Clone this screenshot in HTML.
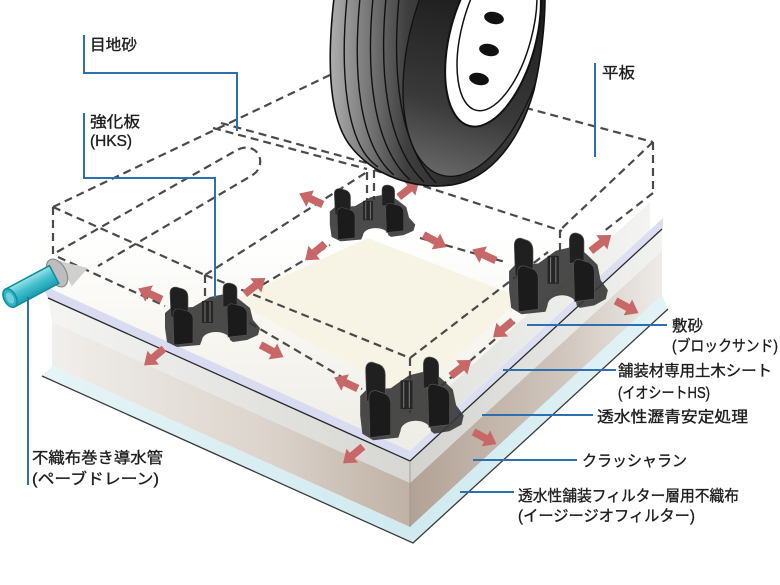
<!DOCTYPE html>
<html>
<head>
<meta charset="utf-8">
<style>
html,body{margin:0;padding:0;background:#fff;}
svg{display:block;}
text{font-family:"Liberation Sans","Noto Sans CJK JP",sans-serif;fill:#1e1e1e;stroke:#1e1e1e;stroke-width:0.35px;font-size:15.5px;}
</style>
</head>
<body>
<svg width="780" height="585" viewBox="0 0 780 585" xmlns="http://www.w3.org/2000/svg">
<defs>
  <linearGradient id="gT" gradientUnits="userSpaceOnUse" x1="0" y1="440" x2="0" y2="235">
    <stop offset="0" stop-color="#eeede6"/>
    <stop offset="0.55" stop-color="#f8f7f2"/>
    <stop offset="1" stop-color="#ffffff"/>
  </linearGradient>
  <linearGradient id="gLA" gradientUnits="userSpaceOnUse" x1="50" y1="0" x2="410" y2="0">
    <stop offset="0" stop-color="#f4f4f2"/>
    <stop offset="1" stop-color="#d6d6d3"/>
  </linearGradient>
  <linearGradient id="gLC" gradientUnits="userSpaceOnUse" x1="50" y1="0" x2="410" y2="0">
    <stop offset="0" stop-color="#f1efec"/>
    <stop offset="0.6" stop-color="#dcd4cc"/>
    <stop offset="1" stop-color="#bfb1a5"/>
  </linearGradient>
  <linearGradient id="gRA" gradientUnits="userSpaceOnUse" x1="410" y1="0" x2="662" y2="0">
    <stop offset="0" stop-color="#d2d2ce"/>
    <stop offset="1" stop-color="#f2f2f0"/>
  </linearGradient>
  <linearGradient id="gRC" gradientUnits="userSpaceOnUse" x1="410" y1="0" x2="662" y2="0">
    <stop offset="0" stop-color="#b2a295"/>
    <stop offset="0.6" stop-color="#cfc5bc"/>
    <stop offset="1" stop-color="#eeebe8"/>
  </linearGradient>
  <linearGradient id="gLF" gradientUnits="userSpaceOnUse" x1="42" y1="0" x2="413" y2="0">
    <stop offset="0" stop-color="#e6f4f6"/>
    <stop offset="1" stop-color="#cfeaef"/>
  </linearGradient>
  <linearGradient id="gRF" gradientUnits="userSpaceOnUse" x1="410" y1="0" x2="668" y2="0">
    <stop offset="0" stop-color="#cfeaef"/>
    <stop offset="1" stop-color="#e3f3f6"/>
  </linearGradient>
  <linearGradient id="gRS" gradientUnits="userSpaceOnUse" x1="430" y1="0" x2="660" y2="0">
    <stop offset="0" stop-color="#e2e2de"/>
    <stop offset="1" stop-color="#f4f4f2"/>
  </linearGradient>
  <linearGradient id="gTread" gradientUnits="userSpaceOnUse" x1="333" y1="0" x2="545" y2="0">
    <stop offset="0" stop-color="#aaaaaa"/>
    <stop offset="0.15" stop-color="#7c7c7c"/>
    <stop offset="0.35" stop-color="#3e3e3e"/>
    <stop offset="0.6" stop-color="#2a2a2a"/>
    <stop offset="1" stop-color="#444"/>
  </linearGradient>
  <linearGradient id="gSide" gradientUnits="userSpaceOnUse" x1="0" y1="0" x2="0" y2="185">
    <stop offset="0" stop-color="#1e1e1e"/>
    <stop offset="0.6" stop-color="#3a3a3a"/>
    <stop offset="1" stop-color="#6a6a6a"/>
  </linearGradient>
  <linearGradient id="gPipe" x1="0" y1="0" x2="0" y2="1">
    <stop offset="0" stop-color="#9fe2ea"/>
    <stop offset="0.45" stop-color="#45c1cf"/>
    <stop offset="1" stop-color="#1a9cad"/>
  </linearGradient>
  <clipPath id="tireClip">
    <path d="M334,-2 C327,60 328,120 352,148 C375,176 415,190 452,185 C492,178 520,140 534,90 C541,60 545,25 545,-2 Z"/>
  </clipPath>
  <g id="blk">
    <path d="M2,30 L9,24 L14,25 L30,24 L47,14 L67,10 L77,17 L87,25 L90,37 L97,45 L95,52 L84,57 L70,59 L67,57 A14,8 0 0 0 39,57 L37,62 L14,64 L4,59 L2,45 Z" fill="#363636" fill-opacity="0.9"/>
    <path d="M8,34 L7,10 Q7,4 13,4 L20,6 Q25,8 25,14 L25,34 Z" fill="#202020" stroke="#555" stroke-width="0.6"/>
    <path d="M60,24 L60,6 Q60,0 66,0 Q74,1 74,7 L74,22 Z" fill="#202020" stroke="#555" stroke-width="0.6"/>
    <rect x="39" y="18" width="11" height="22" fill="#262626"/>
    <line x1="42" y1="19" x2="42" y2="39" stroke="#8a8a8a" stroke-width="0.8"/>
    <line x1="47" y1="19" x2="47" y2="39" stroke="#8a8a8a" stroke-width="0.8"/>
    <path d="M11,62 L10,32 Q10,25 17,26 L24,28 Q30,30 30,36 L30,60 Z" fill="#1b1b1b" stroke="#555" stroke-width="0.6"/>
    <path d="M65,54 L64,26 Q64,20 70,21 L78,23 Q84,25 84,31 L84,52 Z" fill="#1b1b1b" stroke="#555" stroke-width="0.6"/>
  </g>
  <polygon id="arr" points="-13,-3.8 1,-3.8 1,-9 13,0 1,9 1,3.8 -13,3.8" fill="#c76767"/>
</defs>

<rect width="780" height="585" fill="#fff"/>

<!-- slab top surface -->
<polygon points="40,288 410,452 664,220 664,140 330,55 40,195" fill="url(#gT)"/>
<!-- right sand strip -->
<polygon points="430,404 650,202 650,230 430,432" fill="url(#gRS)"/>
<!-- cream diamond -->
<polygon points="232,300 368,238 522,298 410,398" fill="#f8f4e5"/>
<!-- lavender bands -->
<polygon points="42,285 410,451 410,461 48,298" fill="#d9dcf1"/>
<polygon points="410,451 663,218 663,228 410,461" fill="#dcdff2"/>

<!-- left face -->
<polygon points="48,298 410,461 410,483 52,322" fill="url(#gLA)"/>
<polygon points="52,322 410,483 410,527 52,366" fill="url(#gLC)"/>
<polygon points="52,366 410,527 413,543 42,376" fill="url(#gLF)"/>
<!-- right face -->
<polygon points="410,461 662,229 662,251 410,483" fill="url(#gRA)"/>
<polygon points="410,483 662,251 662,295 410,527" fill="url(#gRC)"/>
<polygon points="410,527 662,295 668,309 413,543" fill="url(#gRF)"/>
<!-- edges -->
<polyline points="48,298 410,461 662,229" fill="none" stroke="#2a2a2a" stroke-width="1.3"/>
<polyline points="42,376 413,543 668,309" fill="none" stroke="#3a3a3a" stroke-width="1.3"/>
<line x1="410" y1="461" x2="410" y2="527" stroke="#9a9088" stroke-width="0.8"/>

<!-- dashed pavers -->
<g fill="none" stroke="#4a4a4a" stroke-width="2.2" stroke-dasharray="8 5">
  <path d="M53,207 L330,75"/>
  <path d="M53,207 L205,275"/>
  <path d="M53,207 L53,255"/>
  <path d="M58,257 L165,306"/>
  <path d="M57,252 L237,150 C250,143 262,152 260,164 C259,170 256,173 251,176 L98,266"/>
  <path d="M213,128 L367,169"/>
  <path d="M221,123 L374,165"/>
  <path d="M205,275 L367,172"/>
  <path d="M205,275 L410,358"/>
  <path d="M205,275 L205,300"/>
  <path d="M238,316 L362,389"/>
  <path d="M410,358 L548,252"/>
  <path d="M410,358 L410,413"/>
  <path d="M440,387 L515,322"/>
  <path d="M374,170 L562,231"/>
  <path d="M367,172 L367,200"/>
  <path d="M374,170 L374,200"/>
  <path d="M500,101 L653,142"/>
  <path d="M653,142 L653,193"/>
  <path d="M653,142 L560,230"/>
  <path d="M560,230 L560,253"/>
  <path d="M653,193 L603,232"/>
  <path d="M262,285 L330,245"/>
  <path d="M420,238 L505,262"/>
</g>

<!-- blocks -->
<use href="#blk" transform="translate(163,283)"/>
<use href="#blk" transform="translate(328,185) scale(0.9,0.88)"/>
<use href="#blk" transform="translate(507,233) scale(1.04,1.27)"/>
<use href="#blk" transform="translate(358,357) scale(1.09,1.3)"/>

<!-- arrows -->
<use href="#arr" transform="translate(150,294) rotate(205)"/>
<use href="#arr" transform="translate(154,357) rotate(140)"/>
<use href="#arr" transform="translate(272,351) rotate(28)"/>
<use href="#arr" transform="translate(255,286) rotate(-38)"/>
<use href="#arr" transform="translate(311,199) rotate(205)"/>
<use href="#arr" transform="translate(315,252) rotate(140)"/>
<use href="#arr" transform="translate(409,189) rotate(-38)"/>
<use href="#arr" transform="translate(435,241) rotate(28)"/>
<use href="#arr" transform="translate(484,255) rotate(205)"/>
<use href="#arr" transform="translate(503,329) rotate(140)"/>
<use href="#arr" transform="translate(601,243) rotate(-38)"/>
<use href="#arr" transform="translate(627,307) rotate(28)"/>
<use href="#arr" transform="translate(346,383) rotate(205)"/>
<use href="#arr" transform="translate(353,455) rotate(140)"/>
<use href="#arr" transform="translate(461,368) rotate(-38)"/>
<use href="#arr" transform="translate(485,438) rotate(28)"/>

<!-- pipe -->
<polygon points="55,260 88,268 72,286" fill="#d0d0d0"/>
<ellipse cx="57" cy="273" rx="9" ry="15" transform="rotate(-28 57 273)" fill="#bdbdbd" stroke="#8a8a8a" stroke-width="1.2"/>
<g transform="translate(10,298) rotate(-28)">
  <rect x="0" y="-10" width="50" height="20" fill="url(#gPipe)" stroke="#0f8c9c" stroke-width="1.5"/>
  <ellipse cx="0" cy="0" rx="6" ry="10" fill="#2fb3c3" stroke="#0f8c9c" stroke-width="1.5"/>
  <ellipse cx="0" cy="0" rx="3.5" ry="6" fill="#73d0da"/>
</g>

<!-- tire -->
<g clip-path="url(#tireClip)">
  <path d="M334,-2 C327,60 328,120 352,148 C375,176 415,190 452,185 C492,178 520,140 534,90 C541,60 545,25 545,-2 Z" fill="url(#gTread)"/>
  <ellipse cx="478" cy="40" rx="68" ry="140" transform="rotate(15 478 40)" fill="url(#gSide)" stroke="#111" stroke-width="1.3"/>
  <g fill="none" stroke="#111" stroke-width="1.4">
    <path d="M347,-2 C340,70 345,145 378,167"/>
    <path d="M360,-2 C353,70 358,145 394,175"/>
    <path d="M373,-2 C366,70 372,145 410,180"/>
    <path d="M386,-2 C379,72 386,145 424,182"/>
    <path d="M399,-2 C392,72 399,145 436,183"/>
  </g>
  <ellipse cx="493" cy="37" rx="43" ry="92" transform="rotate(15 493 37)" fill="#fff" stroke="#111" stroke-width="2"/>
  <ellipse cx="497" cy="31" rx="35" ry="82" transform="rotate(15 497 31)" fill="#fff" stroke="#111" stroke-width="1.5"/>
  <ellipse cx="494" cy="18" rx="10" ry="6" transform="rotate(12 494 18)" fill="#111"/>
  <ellipse cx="489" cy="50" rx="10" ry="6" transform="rotate(12 489 50)" fill="#111"/>
  <ellipse cx="479" cy="79" rx="10" ry="6" transform="rotate(12 479 79)" fill="#111"/>
</g>
<path d="M334,-2 C327,60 328,120 352,148 C375,176 415,190 452,185 C492,178 520,140 534,90 C541,60 545,25 545,-2" fill="none" stroke="#111" stroke-width="1.6"/>

<!-- leader lines -->
<g fill="none" stroke="#2d6faf" stroke-width="2">
  <polyline points="84,35 84,73 237,73 237,131"/>
  <polyline points="84,113 84,178 215,178 215,298"/>
  <line x1="595" y1="63" x2="595" y2="157"/>
  <line x1="28" y1="297" x2="28" y2="485"/>
  <line x1="527" y1="325" x2="667" y2="325"/>
  <line x1="503" y1="370" x2="616" y2="370"/>
  <line x1="482" y1="415" x2="593" y2="415"/>
  <line x1="473" y1="460" x2="577" y2="460"/>
  <line x1="460" y1="492" x2="514" y2="492"/>
</g>

<!-- labels -->
<text x="90" y="50" textLength="47" lengthAdjust="spacingAndGlyphs">目地砂</text>
<text x="90" y="127" textLength="50" lengthAdjust="spacingAndGlyphs">強化板</text>
<text x="90" y="146" textLength="42" lengthAdjust="spacingAndGlyphs">(HKS)</text>
<text x="602" y="78" textLength="33" lengthAdjust="spacingAndGlyphs">平板</text>
<text x="32" y="463" textLength="131" lengthAdjust="spacingAndGlyphs">不織布巻き導水管</text>
<text x="32" y="484" textLength="127" lengthAdjust="spacingAndGlyphs">(ペーブドレーン)</text>
<text x="672" y="331" textLength="31" lengthAdjust="spacingAndGlyphs">敷砂</text>
<text x="672" y="351" textLength="106" lengthAdjust="spacingAndGlyphs">(ブロックサンド)</text>
<text x="618" y="376" textLength="154" lengthAdjust="spacingAndGlyphs">舗装材専用土木シート</text>
<text x="618" y="398" textLength="92" lengthAdjust="spacingAndGlyphs">(イオシートHS)</text>
<text x="597" y="422" textLength="151" lengthAdjust="spacingAndGlyphs">透水性瀝青安定処理</text>
<text x="582" y="466" textLength="105" lengthAdjust="spacingAndGlyphs">クラッシャラン</text>
<text x="518" y="501" textLength="221" lengthAdjust="spacingAndGlyphs">透水性舗装フィルター層用不織布</text>
<text x="518" y="521" textLength="177" lengthAdjust="spacingAndGlyphs">(イージージオフィルター)</text>
</svg>
</body>
</html>
